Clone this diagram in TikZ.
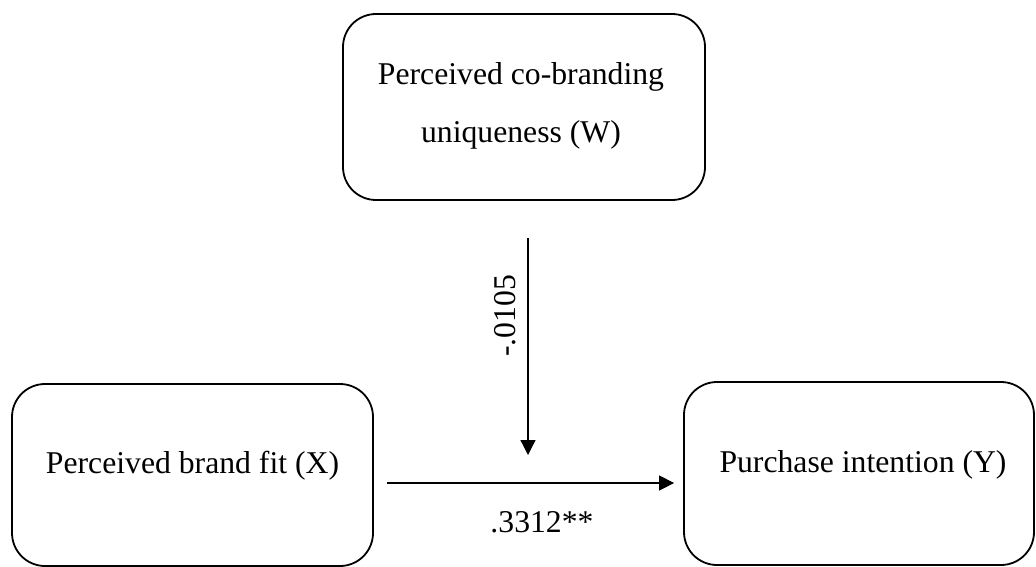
\documentclass[tikz,border=0pt]{standalone}
\usepackage{fontspec}
\setmainfont{Liberation Serif}
\usetikzlibrary{arrows.meta}
\begin{document}
\begin{tikzpicture}[x=1pt,y=-1pt,
  box/.style={draw, line width=1.8pt, rounded corners=33pt, inner sep=0pt},
  lbl/.style={font=\fontsize{31.7}{58}\selectfont, align=center, inner sep=0pt},
  conn/.style={line width=1.3pt, -{Triangle[length=15pt,width=15pt]}}]
\useasboundingbox (0,0) rectangle (1036,567);
% boxes
\node[box, minimum width=362pt, minimum height=186pt] (W) at (524,107) {};
\node[box, minimum width=361pt, minimum height=182pt] (X) at (192.5,475) {};
\node[box, minimum width=350pt, minimum height=183pt] (Y) at (859,473.5) {};
% box texts
\node[lbl] (Wt) at (521,106) {Perceived co-branding\\uniqueness (W)};
\node[lbl] (Xt) at (192.5,466) {Perceived brand fit (X)};
\node[lbl] (Yt) at (863,465) {Purchase intention (Y)};
% connectors
\coordinate (h1) at (387,483);
\coordinate (vt) at (528,455);
\draw[conn, shorten >=9pt] (h1) -- (h1 -| Y.west);
\draw[conn, shorten <=37pt] (vt |- W.south) -- (vt);
% labels
\node[lbl] (b1) at (542,522) {.3312**};
\node[lbl, rotate=90] (b2) at (505,316) {-.0105};
\end{tikzpicture}
\end{document}
